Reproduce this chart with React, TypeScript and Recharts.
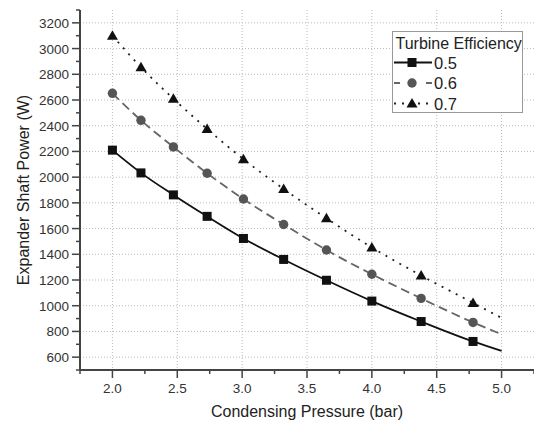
import React from "react";
import {LineChart, Line, XAxis, YAxis, CartesianGrid, Legend} from "recharts";

// condensing pressure (bar) — last point is the end of the fitted curve, no marker
const pressure = [2.0, 2.22, 2.47, 2.73, 3.01, 3.32, 3.65, 4.0, 4.38, 4.78, 5.0];
const eff05 = [2210, 2033, 1862, 1695, 1523, 1360, 1198, 1036, 877, 722, 648];
const eff06 = [2652, 2442, 2235, 2030, 1830, 1632, 1433, 1245, 1057, 870, 778];
const eff07 = [3100, 2855, 2610, 2375, 2140, 1908, 1680, 1453, 1235, 1022, 905];

const xTicks = [1.75, 2.0, 2.25, 2.5, 2.75, 3.0, 3.25, 3.5, 3.75, 4.0, 4.25, 4.5, 4.75, 5.0, 5.25];
const xMajor = [2.0, 2.5, 3.0, 3.5, 4.0, 4.5, 5.0];
const yTicks = [500, 600, 700, 800, 900, 1000, 1100, 1200, 1300, 1400, 1500, 1600, 1700, 1800, 1900, 2000,
    2100, 2200, 2300, 2400, 2500, 2600, 2700, 2800, 2900, 3000, 3100, 3200, 3300];
const yMajor = [600, 800, 1000, 1200, 1400, 1600, 1800, 2000, 2200, 2400, 2600, 2800, 3000, 3200];

const legendTitle = "Turbine Efficiency";
const seriesNames = ["0.5", "0.6", "0.7"];

const data = pressure.map((p, i) => ({p, e05: eff05[i], e06: eff06[i], e07: eff07[i]}));

const FONT = "'Liberation Sans', Arial, sans-serif";
const AXIS = "#444";

type Shape = "square" | "circle" | "triangle";

const series: {key: string; name: string; stroke: string; dash?: string; shape: Shape; fill: string}[] = [
    {key: "e05", name: seriesNames[0], stroke: "#111", shape: "square", fill: "#111"},
    {key: "e06", name: seriesNames[1], stroke: "#666", dash: "9 5", shape: "circle", fill: "#555"},
    {key: "e07", name: seriesNames[2], stroke: "#222", dash: "2 6", shape: "triangle", fill: "#111"},
];

function marker(shape: Shape, cx: number, cy: number, fill: string) {
    if (shape === "square") return <rect x={cx - 4.5} y={cy - 4.5} width={9} height={9} fill={fill}/>;
    if (shape === "circle") return <circle cx={cx} cy={cy} r={4.7} fill={fill}/>;
    return <polygon points={`${cx},${cy - 5.5} ${cx + 5.5},${cy + 4} ${cx - 5.5},${cy + 4}`} fill={fill}/>;
}

function XTick({x, y, payload}: any) {
    const major = xMajor.includes(payload.value);
    return (
        <g>
            <line x1={x} x2={x} y1={y} y2={y + (major ? 8 : 4)} stroke={AXIS} strokeWidth={1.5}/>
            {major && <text x={x} y={y + 23} textAnchor="middle" fontSize={13.5} fill="#333" fontFamily={FONT}>
                {payload.value.toFixed(1)}</text>}
        </g>
    );
}

function YTick({x, y, payload}: any) {
    const major = yMajor.includes(payload.value);
    return (
        <g>
            <line x1={x} x2={x - (major ? 8 : 4)} y1={y} y2={y} stroke={AXIS} strokeWidth={1.5}/>
            {major && <text x={x - 11} y={y + 5} textAnchor="end" fontSize={13.5} fill="#333" fontFamily={FONT}>
                {payload.value}</text>}
        </g>
    );
}

function LegendBox() {
    const rows = [31.5, 52, 72.5];
    return (
        <svg width={132} height={83} style={{display: "block"}}>
            <rect x={0.5} y={0.5} width={130} height={81} fill="#fff" stroke="#999"/>
            <text x={3.5} y={17.5} fontSize={16} fill="#222" fontFamily={FONT}>{legendTitle}</text>
            {series.map((s, i) => (
                <g key={s.key}>
                    <line x1={2} x2={40} y1={rows[i]} y2={rows[i]} stroke={s.stroke} strokeWidth={2}
                          strokeDasharray={s.shape === "circle" ? "6 10" : s.dash}/>
                    {marker(s.shape, 20, rows[i], s.fill)}
                    <text x={42} y={rows[i] + 6} fontSize={16.5} fill="#222" fontFamily={FONT}>{s.name}</text>
                </g>
            ))}
        </svg>
    );
}

export default function App() {
    return (
        <div style={{position: "absolute", left: 0, top: 0, background: "#fff", fontFamily: FONT}}>
            <LineChart width={534} height={423} data={data} margin={{top: 10, right: 0, bottom: 0, left: 0}}>
                <CartesianGrid stroke="#bbb" strokeDasharray="1 2" verticalValues={xMajor} horizontalValues={yMajor}/>
                <XAxis dataKey="p" type="number" domain={[1.75, 5.25]} ticks={xTicks} interval={0}
                       tick={<XTick/>} tickLine={false} tickSize={0} tickMargin={0} height={53}
                       axisLine={{stroke: AXIS, strokeWidth: 2}}
                       label={{
                           value: "Condensing Pressure (bar)", position: "insideBottom", offset: 6,
                           fontSize: 16, fill: "#222", fontFamily: FONT
                       }}/>
                <YAxis type="number" domain={[500, 3300]} ticks={yTicks} interval={0} width={80}
                       tick={<YTick/>} tickLine={false} tickSize={0} tickMargin={0}
                       axisLine={{stroke: AXIS, strokeWidth: 2}}
                       label={{
                           content: ({viewBox}: any) => {
                               const cx = viewBox.x + 23;
                               const cy = viewBox.y + viewBox.height / 2;
                               return <text x={cx} y={cy} transform={`rotate(-90, ${cx}, ${cy})`} textAnchor="middle"
                                            dominantBaseline="central" fontSize={16} fill="#222"
                                            fontFamily={FONT}>Expander Shaft Power (W)</text>;
                           }
                       }}/>
                <Legend layout="vertical" align="center" verticalAlign="middle"
                        wrapperStyle={{left: 392, top: 31, width: 132, height: 83}} content={() => <LegendBox/>}/>
                {series.map(s => (
                    <Line key={s.key} dataKey={s.key} name={s.name} type="monotone" stroke={s.stroke}
                          strokeWidth={1.8} strokeDasharray={s.dash} isAnimationActive={false} activeDot={false}
                          dot={(props: any) => {
                              const {cx, cy, index} = props;
                              if (index === pressure.length - 1) return <g key={`${s.key}-${index}`}/>;
                              return <g key={`${s.key}-${index}`}>{marker(s.shape, cx, cy, s.fill)}</g>;
                          }}/>
                ))}
            </LineChart>
        </div>
    );
}
